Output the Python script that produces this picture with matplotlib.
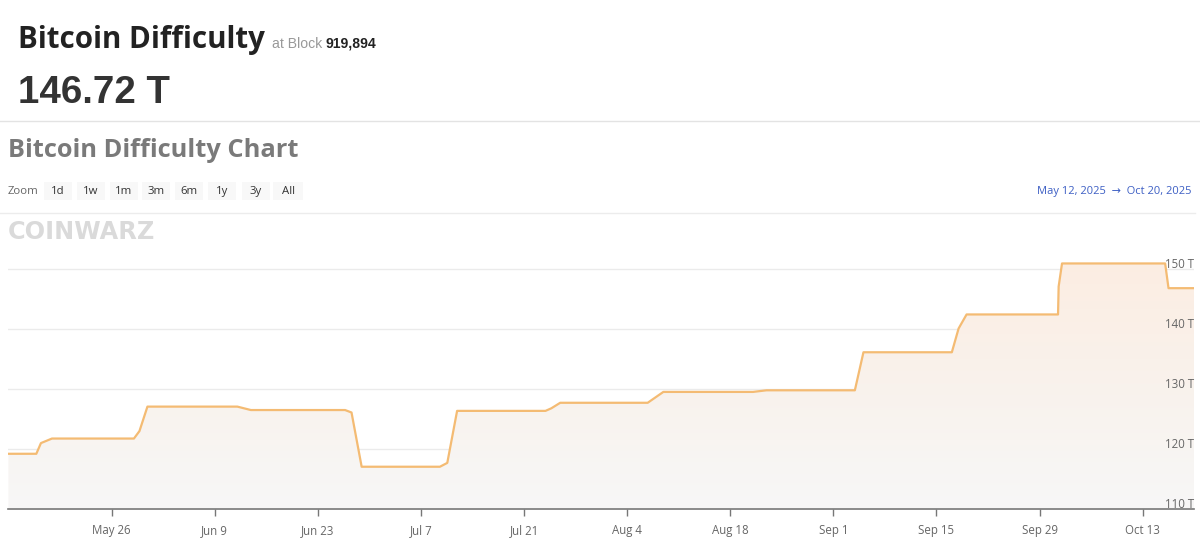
import matplotlib
matplotlib.use("Agg")
import matplotlib.pyplot as plt
import matplotlib.dates as mdates
import numpy as np
import pandas as pd
from matplotlib.patches import Rectangle
from matplotlib.colors import LinearSegmentedColormap
from matplotlib.lines import Line2D

# ---------------- data ----------------
point_times = [
    "2025-05-12 00:00", "2025-05-15 19:00", "2025-05-16 10:00", "2025-05-17 22:00",
    "2025-05-29 01:00", "2025-05-29 19:00", "2025-05-30 21:00",
    "2025-06-12 02:00", "2025-06-13 22:00",
    "2025-06-26 17:00", "2025-06-27 14:00", "2025-06-28 23:00",
    "2025-07-09 14:00", "2025-07-10 14:00", "2025-07-11 22:00",
    "2025-07-23 22:00", "2025-07-24 17:00", "2025-07-25 22:00",
    "2025-08-06 19:00", "2025-08-08 22:00",
    "2025-08-21 02:00", "2025-08-22 22:00",
    "2025-09-03 22:00", "2025-09-05 02:00",
    "2025-09-17 02:00", "2025-09-18 00:00", "2025-09-19 02:00",
    "2025-10-01 12:00", "2025-10-01 14:00", "2025-10-02 01:00",
    "2025-10-16 01:00", "2025-10-16 12:00", "2025-10-20 00:00",
]
difficulty_t = [
    119.12, 119.12, 120.90, 121.66,
    121.66, 122.90, 126.98,
    126.98, 126.41,
    126.41, 126.00, 116.96,
    116.96, 117.60, 126.27,
    126.27, 126.70, 127.62,
    127.62, 129.43,
    129.43, 129.70,
    129.70, 136.04,
    136.04, 140.00, 142.34,
    142.34, 147.00, 150.84,
    150.84, 146.72, 146.72,
]
y_ticks = [110, 120, 130, 140, 150]
x_tick_dates = ["2025-05-26", "2025-06-09", "2025-06-23", "2025-07-07", "2025-07-21",
                "2025-08-04", "2025-08-18", "2025-09-01", "2025-09-15", "2025-09-29",
                "2025-10-13"]
range_start = "2025-05-12"
range_end = "2025-10-20"
range_labels = ["May 12, 2025", "Oct 20, 2025"]
zoom_buttons = ["1d", "1w", "1m", "3m", "6m", "1y", "3y", "All"]
title_text = "Bitcoin Difficulty"
block_text = "919,894"
current_value = "146.72 T"
chart_title = "Bitcoin Difficulty Chart"

# ---------------- figure ----------------
W, H = 1200, 554
fig = plt.figure(figsize=(12, 5.54), dpi=100)
fig.patch.set_facecolor("white")


def fx(x):
    return x / W


def fy(y):
    return 1 - y / H


renderer = fig.canvas.get_renderer()


def fit_text(x, y, s, width, **kw):
    t = fig.text(fx(x), fy(y), s, **kw)
    bb = t.get_window_extent(renderer)
    t.set_fontsize(t.get_fontsize() * width / bb.width)
    return t


# header
fit_text(18, 48, title_text, 247, family="Open Sans", weight="bold",
         color="#222222", fontsize=20, va="baseline")
fit_text(272, 48, "at Block", 50, family="Liberation Sans", color="#999999",
         fontsize=10, va="baseline")
fit_text(326, 48, block_text, 51, family="Liberation Sans", weight="bold",
         color="#222222", fontsize=10, va="baseline")
fit_text(18, 103, current_value, 152, family="Liberation Sans", weight="bold",
         color="#333333", fontsize=28, va="baseline")
fig.add_artist(Line2D([0, 1], [fy(120.5), fy(120.5)], transform=fig.transFigure,
                      color="#e3e3e3", lw=1))

fit_text(8, 157, chart_title, 290, family="Open Sans", weight="bold",
         color="#7a7a7a", fontsize=17, va="baseline")

# zoom row
fig.text(fx(8), fy(191.5), "Zoom", family="Open Sans", color="#666666",
         fontsize=8.2, va="center", ha="left")
btn_centers = [58, 91, 124, 156, 189, 222, 256, 288]
for lab, cx in zip(zoom_buttons, btn_centers):
    bw = 28 if lab != "All" else 30
    fig.add_artist(Rectangle((fx(cx - bw / 2), fy(200)), bw / W, 18 / H,
                             transform=fig.transFigure, facecolor="#f8f8f8",
                             edgecolor="none"))
    fig.text(fx(cx), fy(191.5), lab, family="Open Sans", color="#333333",
             fontsize=8.2, va="center", ha="center")

fit_text(1037, 191.5, f"{range_labels[0]}  \u2192  {range_labels[1]}", 155,
         family=["Open Sans", "DejaVu Sans"], color="#3d5fc4", fontsize=8.2,
         va="center")
fig.add_artist(Line2D([0, fx(1195)], [fy(213), fy(213)], transform=fig.transFigure,
                      color="#ececec", lw=1))

# watermark
fit_text(8, 239, "COINWARZ", 147, family="DejaVu Sans", weight="bold",
         color="#dadada", fontsize=16, va="baseline")

# ---------------- chart ----------------
left, right, bottom, top = 8.4, 1194.3, 508.5, 250.0
ax = fig.add_axes([fx(left), fy(bottom), (right - left) / W, (bottom - top) / H])
ax.set_facecolor("none")

t = pd.to_datetime(point_times)
xs = mdates.date2num(t)
y_low = 110.0
y_high = y_low + (bottom - top) / 6.0

# grid lines (under the area fill)
for v in y_ticks[1:]:
    ax.axhline(v, color="#ebebeb", lw=1, zorder=0.5)

poly = ax.fill_between(xs, difficulty_t, y_low, facecolor="none", lw=0)
grad = np.linspace(0, 1, 256).reshape(-1, 1)
cmap = LinearSegmentedColormap.from_list("g", ["#f7f7f7", "#f9f2ec", "#fcede2"])
im = ax.imshow(grad, extent=[xs[0], xs[-1], y_low, 151.5], origin="lower",
               aspect="auto", cmap=cmap, zorder=1, interpolation="bilinear")
im.set_clip_path(poly.get_paths()[0], transform=ax.transData)

ax.plot(xs, difficulty_t, color="#f4bb73", lw=1.6, zorder=3,
        solid_joinstyle="round")

ax.set_xlim(mdates.date2num(pd.Timestamp(range_start)),
            mdates.date2num(pd.Timestamp(range_end)))
ax.set_ylim(y_low, y_high)

# y axis (labels right, inside, sitting on their grid lines)
ax.set_yticks(y_ticks, labels=[f"{v} T" for v in y_ticks])
ax.yaxis.tick_right()
ax.tick_params(axis="y", length=0, pad=0, labelsize=8.3, labelcolor="#666666")
for tk in ax.yaxis.get_major_ticks():
    for lbl in (tk.label1, tk.label2):
        lbl.set_ha("right")
        lbl.set_va("baseline")
        lbl.set_family("Open Sans")

# x axis
xt = mdates.date2num(pd.to_datetime(x_tick_dates))
ax.set_xticks(xt, labels=[pd.Timestamp(d).strftime("%b ") + str(pd.Timestamp(d).day)
                          for d in x_tick_dates])
ax.tick_params(axis="x", length=5, width=1, color="#777777", pad=6,
               labelsize=8.3, labelcolor="#666666")
for lbl in ax.get_xticklabels():
    lbl.set_family("Open Sans")

for s in ["left", "right", "top"]:
    ax.spines[s].set_visible(False)
ax.spines["bottom"].set_color("#777777")
ax.spines["bottom"].set_linewidth(1.2)

fig.savefig("out.png", dpi=100, facecolor="white")
